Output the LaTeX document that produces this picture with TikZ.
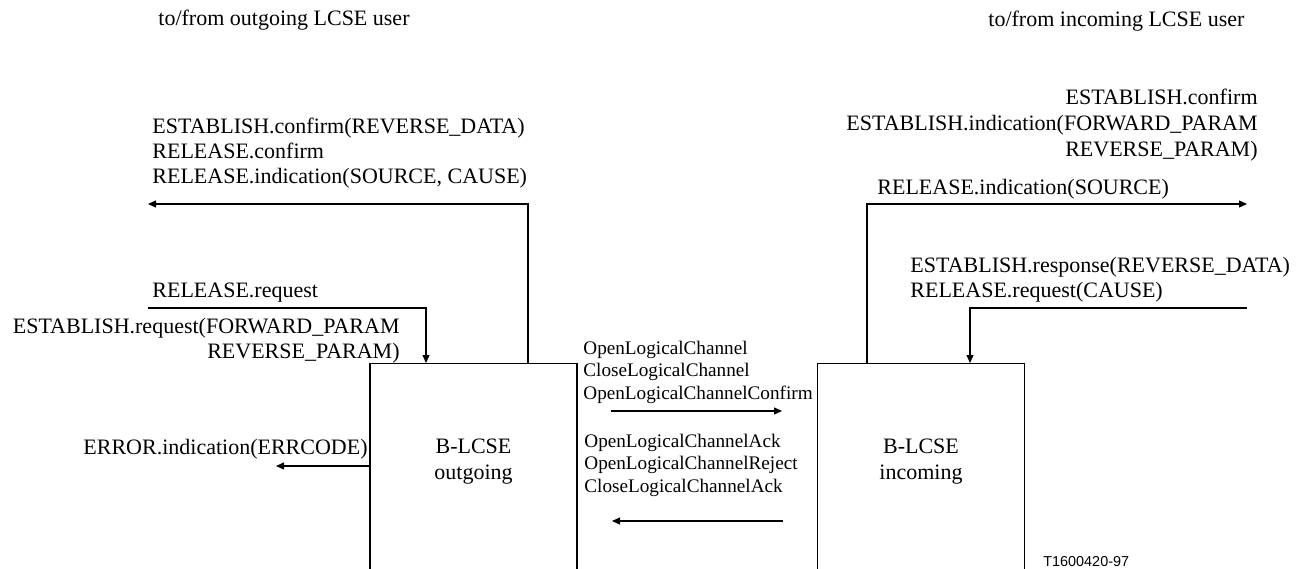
\documentclass[tikz,border=0pt]{standalone}
\usepackage{fontspec}
\setmainfont{Liberation Serif}
\newfontfamily\tagfont{Liberation Sans}
\usetikzlibrary{arrows.meta}
\tikzset{
	sig/.style={line width=0.6pt, -{Triangle[length=4pt,width=3.5pt]}},
	lcse/.style={draw, line width=0.6pt, anchor=north, minimum width=103.5pt, minimum height=130pt},
	prim/.style={inner sep=0pt, font=\fontsize{11}{12.5}\selectfont},
	pdu/.style={inner sep=0pt, anchor=base west, align=left, font=\fontsize{9.6}{11.25}\selectfont},
}

\begin{document}
\begin{tikzpicture}[x=0.5pt,y=-0.5pt]
	\useasboundingbox (0,0) rectangle (1305,568);
	\clip (0,0) rectangle (1305,568);

	\node[lcse] (out) at (473.5,363) {};
	\node[lcse] (in) at (921,363) {};
	\node[prim, align=center, anchor=base, font=\fontsize{11}{13}\selectfont] (outtxt) at (473.5,479) {B-LCSE\\outgoing};
	\node[prim, align=center, anchor=base, font=\fontsize{11}{13}\selectfont] (intxt) at (921,479) {B-LCSE\\incoming};

	\node[prim, anchor=base west] (uout) at (158,25) {to/from outgoing LCSE user};
	\node[prim, anchor=base west] (uin) at (988,26) {to/from incoming LCSE user};

	\node[prim, anchor=base west, align=left] (cfm) at (152,183) {ESTABLISH.confirm(REVERSE\_DATA)\\RELEASE.confirm\\RELEASE.indication(SOURCE, CAUSE)};
	\node[prim, anchor=base west] (rel) at (152,297) {RELEASE.request};
	\node[prim, anchor=base east, align=right] (est) at (400,358) {ESTABLISH.request(FORWARD\_PARAM\\REVERSE\_PARAM)};
	\node[prim, anchor=base east] (err) at (368,454) {ERROR.indication(ERRCODE)};

	\node[prim, anchor=base east, align=right, font=\fontsize{11}{13}\selectfont] (ind) at (1258,156) {ESTABLISH.confirm\\ESTABLISH.indication(FORWARD\_PARAM\\REVERSE\_PARAM)};
	\node[prim, anchor=base west] (rind) at (877,194) {RELEASE.indication(SOURCE)};
	\node[prim, anchor=base west, align=left] (rsp) at (910,297) {ESTABLISH.response(REVERSE\_DATA)\\RELEASE.request(CAUSE)};

	\node[pdu] (fwd) at (583,399) {OpenLogicalChannel\\CloseLogicalChannel\\OpenLogicalChannelConfirm};
	\node[pdu] (bwd) at (584,492) {OpenLogicalChannelAck\\OpenLogicalChannelReject\\CloseLogicalChannelAck};

	\node[inner sep=0pt, anchor=base west, font=\tagfont\fontsize{7.2}{8}\selectfont] (tag) at (1043,566) {T1600420-97};

	\coordinate (cfmend) at (148,204);
	\coordinate (relbeg) at (148,308);
	\coordinate (errend) at (276,466);
	\coordinate (indend) at (1247,204);
	\coordinate (rspbeg) at (1247,308);
	\coordinate (fwda) at (611,411);
	\coordinate (fwdb) at (782,411);
	\coordinate (bwda) at (783,521);
	\coordinate (bwdb) at (612,521);

	\draw[sig] (528,0 |- out.north) |- (cfmend);
	\draw[sig] (relbeg) -| (426,0 |- out.north);
	\draw[sig] (out.west |- errend) -- (errend);
	\draw[sig] (867,0 |- in.north) |- (indend);
	\draw[sig] (rspbeg) -| (970,0 |- in.north);
	\draw[sig] (fwda) -- (fwdb);
	\draw[sig] (bwda) -- (bwdb);
\end{tikzpicture}
\end{document}
